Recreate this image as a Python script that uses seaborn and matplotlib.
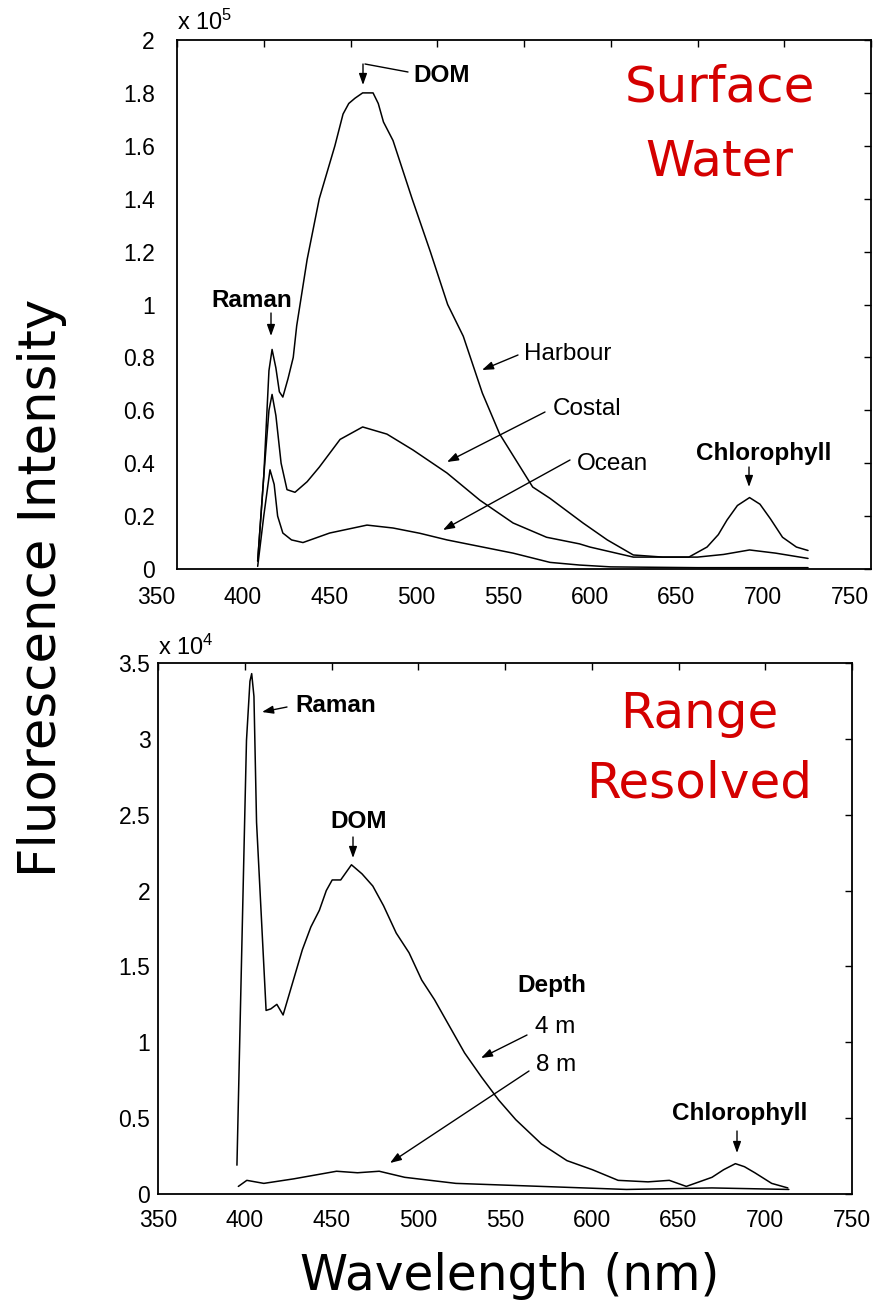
import matplotlib
matplotlib.use("Agg")
import matplotlib.pyplot as plt
import seaborn as sns
import pandas as pd
from matplotlib.transforms import ScaledTranslation
from matplotlib.ticker import FuncFormatter

# ---------------- data (top panel, units of 1e5) ----------------
harbour_wl = [396.5, 400, 403, 404.8, 407, 409, 411, 414, 417, 419, 425, 432, 441, 445.7,
              449, 452.6, 457, 463, 466, 469, 474.5, 485.5, 496, 506, 515, 526, 536, 555, 565, 584,
              598, 613, 630, 645, 655.5, 662, 667, 673, 680, 686, 692, 699, 707, 713.7]
harbour_int = [0.03, 0.35, 0.75, 0.83, 0.76, 0.67, 0.65, 0.72, 0.80, 0.92, 1.17, 1.40, 1.60, 1.72,
               1.76, 1.78, 1.80, 1.80, 1.76, 1.69, 1.62, 1.40, 1.20, 1.00, 0.88, 0.665, 0.51, 0.31,
               0.267, 0.174, 0.11, 0.053, 0.045, 0.045, 0.083, 0.13, 0.185, 0.24, 0.27, 0.245,
               0.19, 0.12, 0.083, 0.07]

costal_wl = [396.5, 400, 403, 404.8, 407, 410, 413.4, 418, 425, 432, 444, 457, 471, 486,
             505.6, 524.6, 543.7, 563, 582, 588, 613, 650, 665, 680, 695, 713.7]
costal_int = [0.03, 0.35, 0.60, 0.66, 0.58, 0.40, 0.30, 0.29, 0.33, 0.385, 0.49, 0.537, 0.51, 0.45,
              0.363, 0.26, 0.174, 0.12, 0.095, 0.083, 0.045, 0.045, 0.055, 0.072, 0.06, 0.04]

ocean_wl = [396.5, 400, 403.6, 406, 408, 411, 416, 422.6, 438, 459.5, 474.5, 490, 505.6,
            543.7, 565, 582, 600, 650, 713.7]
ocean_int = [0.01, 0.2, 0.375, 0.32, 0.2, 0.136, 0.11, 0.10, 0.136, 0.166, 0.155, 0.135, 0.11,
             0.06, 0.025, 0.015, 0.008, 0.005, 0.005]

# ---------------- data (bottom panel, units of 1e4) ----------------
d4_wl = [395.5, 400, 401, 403, 404, 405.3, 406.8, 412.3, 415, 418.5, 422.1, 427, 433.2, 438.1,
         443, 447, 450.4, 455.3, 461.5, 467.6, 473.8, 480, 487.3, 494.7, 502, 509.4, 516.8,
         526.7, 536.5, 546.3, 556.2, 571, 585.7, 600.4, 615.2, 632.4, 644.7, 654.5, 669.3,
         676, 682.8, 688, 694, 703.7, 713]
d4_int = [0.19, 2.49, 2.99, 3.38, 3.43, 3.28, 2.45, 1.21, 1.22, 1.25, 1.18, 1.37, 1.61, 1.76,
          1.87, 2.00, 2.07, 2.07, 2.17, 2.11, 2.03, 1.90, 1.72, 1.59, 1.41, 1.28, 1.13,
          0.93, 0.77, 0.62, 0.49, 0.33, 0.22, 0.16, 0.09, 0.08, 0.09, 0.05, 0.11,
          0.16, 0.20, 0.18, 0.14, 0.07, 0.04]

d8_wl = [396.3, 401.2, 411, 428.3, 452.9, 465, 477.5, 492.2, 521.7, 571, 620, 669.3, 713.6]
d8_int = [0.05, 0.09, 0.07, 0.10, 0.15, 0.14, 0.15, 0.11, 0.07, 0.05, 0.03, 0.04, 0.03]

x_ticks = [350, 400, 450, 500, 550, 600, 650, 700, 750]
top_y_ticks = [0, 0.2, 0.4, 0.6, 0.8, 1.0, 1.2, 1.4, 1.6, 1.8, 2.0]
bot_y_ticks = [0, 0.5, 1.0, 1.5, 2.0, 2.5, 3.0, 3.5]

top_df = pd.concat([
    pd.DataFrame({"wl": harbour_wl, "val": harbour_int, "site": "Harbour"}),
    pd.DataFrame({"wl": costal_wl, "val": costal_int, "site": "Costal"}),
    pd.DataFrame({"wl": ocean_wl, "val": ocean_int, "site": "Ocean"}),
])
bot_df = pd.concat([
    pd.DataFrame({"wl": d4_wl, "val": d4_int, "depth": "4 m"}),
    pd.DataFrame({"wl": d8_wl, "val": d8_int, "depth": "8 m"}),
])

# ---------------- style ----------------
sns.set_theme(style="white")
plt.rcParams["font.family"] = ["Liberation Sans", "DejaVu Sans"]
plt.rcParams["mathtext.default"] = "regular"
plt.rcParams["text.color"] = "black"

W, H = 876, 1304
fig = plt.figure(figsize=(W / 100, H / 100), dpi=100)
fig.patch.set_facecolor("white")


def fp(x, y):
    return (x / W, 1 - y / H)


ax1 = fig.add_axes([177 / W, 1 - 569 / H, (871 - 177) / W, (569 - 40) / H])
ax2 = fig.add_axes([158 / W, 1 - 1194 / H, (852 - 158) / W, (1194 - 663) / H])

for site in ["Harbour", "Costal", "Ocean"]:
    sub = top_df[top_df.site == site]
    sns.lineplot(data=sub, x="wl", y="val", ax=ax1, color="black", lw=1.1,
                 estimator=None, sort=False, legend=False)
for depth in ["4 m", "8 m"]:
    sub = bot_df[bot_df.depth == depth]
    sns.lineplot(data=sub, x="wl", y="val", ax=ax2, color="black", lw=1.1,
                 estimator=None, sort=False, legend=False)

fmt = FuncFormatter(lambda v, p: "%g" % round(v, 3))
for ax, yt in [(ax1, top_y_ticks), (ax2, bot_y_ticks)]:
    ax.set_xlim(350, 750)
    ax.set_ylim(yt[0], yt[-1])
    ax.set_xticks(x_ticks)
    ax.set_yticks(yt)
    ax.yaxis.set_major_formatter(fmt)
    ax.set_xlabel("")
    ax.set_ylabel("")
    ax.tick_params(direction="in", length=5, width=1, top=True, right=True,
                   labelsize=16.5, colors="black")
    for s in ax.spines.values():
        s.set_color("black")
        s.set_linewidth(1.3)
        s.set_visible(True)

ax1.tick_params(axis="x", pad=12.5)
ax1.tick_params(axis="y", pad=16)
ax2.tick_params(axis="x", pad=10.5)
ax2.tick_params(axis="y", pad=5.5)

# top panel tick labels are shifted left relative to frame in the reference
shift = ScaledTranslation(-21 / 100, 0, fig.dpi_scale_trans)
for lbl in ax1.get_xticklabels():
    lbl.set_transform(lbl.get_transform() + shift)

# exponent labels
fig.text(*fp(177, 30), "x 10$^5$", fontsize=17, ha="left", va="baseline")
fig.text(*fp(158, 655), "x 10$^4$", fontsize=17, ha="left", va="baseline")

arrow_kw = dict(arrowstyle="-|>,head_length=0.45,head_width=0.16", color="black",
                lw=1.0, shrinkA=0, shrinkB=0, mutation_scale=15)


def arrow(x0, y0, x1, y1):
    fig.add_artist(matplotlib.patches.FancyArrowPatch(
        fp(x0, y0), fp(x1, y1), transform=fig.transFigure, **arrow_kw))


def label(x, y, s, bold=False, size=17.5):
    fig.text(*fp(x, y), s, fontsize=size, ha="center", va="baseline",
             fontweight="bold" if bold else "normal")


# top annotations
label(441.5, 82, "DOM", bold=True)
fig.add_artist(matplotlib.lines.Line2D([408 / W, 365 / W], [1 - 72 / H, 1 - 64 / H],
                                       transform=fig.transFigure, color="black", lw=1.0))
arrow(363, 64, 363, 85)
label(252, 307, "Raman", bold=True)
arrow(271, 313, 271, 336)
label(568, 360, "Harbour")
arrow(518, 355, 482, 370)
label(587, 415, "Costal")
arrow(545, 412, 447, 462)
label(613, 470, "Ocean")
arrow(570, 460, 443, 530)
label(764, 460, "Chlorophyll", bold=True)
arrow(749, 467, 749, 487)

# bottom annotations
label(336, 712, "Raman", bold=True)
arrow(287, 707, 262, 712)
label(359, 828, "DOM", bold=True)
arrow(353, 837, 353, 858)
label(552, 992, "Depth", bold=True)
label(555, 1033, "4 m")
arrow(527, 1035, 481, 1058)
label(556, 1071, "8 m")
arrow(529, 1071, 390, 1163)
label(740, 1120, "Chlorophyll", bold=True)
arrow(737, 1131, 737, 1153)

# red panel titles
red = "#d40000"
big = ["DejaVu Sans"]
fig.text(*fp(720, 102), "Surface", fontsize=36, color=red, ha="center", va="baseline", family=big)
fig.text(*fp(719, 175), "Water", fontsize=36, color=red, ha="center", va="baseline", family=big)
fig.text(*fp(699, 728), "Range", fontsize=36, color=red, ha="center", va="baseline", family=big)
fig.text(*fp(699, 797), "Resolved", fontsize=36, color=red, ha="center", va="baseline", family=big)

# axis titles
fig.text(*fp(42, 588), "Fluorescence Intensity", fontsize=37, rotation=90,
         ha="center", va="center", family=big)
fig.text(*fp(510, 1290), "Wavelength (nm)", fontsize=35, ha="center", va="baseline", family=big)

fig.savefig("out.png", dpi=100, facecolor="white")
